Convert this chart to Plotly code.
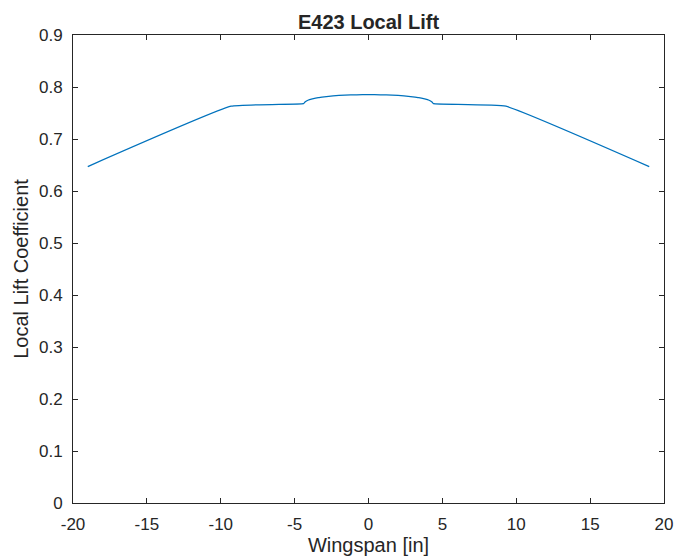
import plotly.graph_objects as go

# Spanwise stations [in] and local lift coefficient (E423 airfoil)
span_in = [-19.0, -9.3, -4.4, -4.3, -4.1, -3.8, -3.4, -3.0, -2.4, -1.6, -0.8, 0.0,
           0.8, 1.6, 2.4, 3.0, 3.4, 3.8, 4.1, 4.3, 4.4, 9.3, 19.0]
local_cl = [0.647, 0.763, 0.768, 0.771, 0.7745, 0.777, 0.7795, 0.781, 0.783, 0.7845, 0.785, 0.7855,
            0.785, 0.7845, 0.783, 0.781, 0.7795, 0.777, 0.7745, 0.771, 0.768, 0.763, 0.647]

x_ticks = [-20, -15, -10, -5, 0, 5, 10, 15, 20]
x_labels = ["-20", "-15", "-10", "-5", "0", "5", "10", "15", "20"]
y_ticks = [0, 0.1, 0.2, 0.3, 0.4, 0.5, 0.6, 0.7, 0.8, 0.9]
y_labels = ["0", "0.1", "0.2", "0.3", "0.4", "0.5", "0.6", "0.7", "0.8", "0.9"]

axis_color = "#262626"
font_family = "Liberation Sans, Arial, sans-serif"

fig = go.Figure()
fig.add_trace(go.Scatter(
    x=span_in, y=local_cl, mode="lines",
    line=dict(color="#0072BD", width=1.3, shape="spline", smoothing=0.3),
    showlegend=False,
))

common_axis = dict(
    showline=True, linecolor=axis_color, linewidth=1, mirror="ticks",
    ticks="inside", ticklen=5, tickcolor=axis_color, tickwidth=1,
    showgrid=False, zeroline=False, automargin=False,
    tickfont=dict(family=font_family, size=17, color=axis_color),
)

fig.update_layout(
    width=678, height=559,
    margin=dict(l=73, r=14, t=35, b=56),
    paper_bgcolor="white", plot_bgcolor="white",
    title=dict(text="<b>E423 Local Lift</b>", x=0.5, xanchor="center",
               xref="paper", y=1, yref="paper", yanchor="bottom", pad=dict(b=6),
               font=dict(family=font_family, size=20, color=axis_color)),
    xaxis=dict(range=[-20, 20], tickvals=x_ticks, ticktext=x_labels,
               ticklabelstandoff=6,
               title=dict(text="Wingspan [in]", standoff=1,
                          font=dict(family=font_family, size=20, color=axis_color)),
               **common_axis),
    yaxis=dict(range=[0, 0.9], tickvals=y_ticks, ticktext=y_labels,
               ticklabelstandoff=6,
               title=dict(text="Local Lift Coefficient", standoff=4,
                          font=dict(family=font_family, size=20, color=axis_color)),
               **common_axis),
)

fig.write_html("out.html")
